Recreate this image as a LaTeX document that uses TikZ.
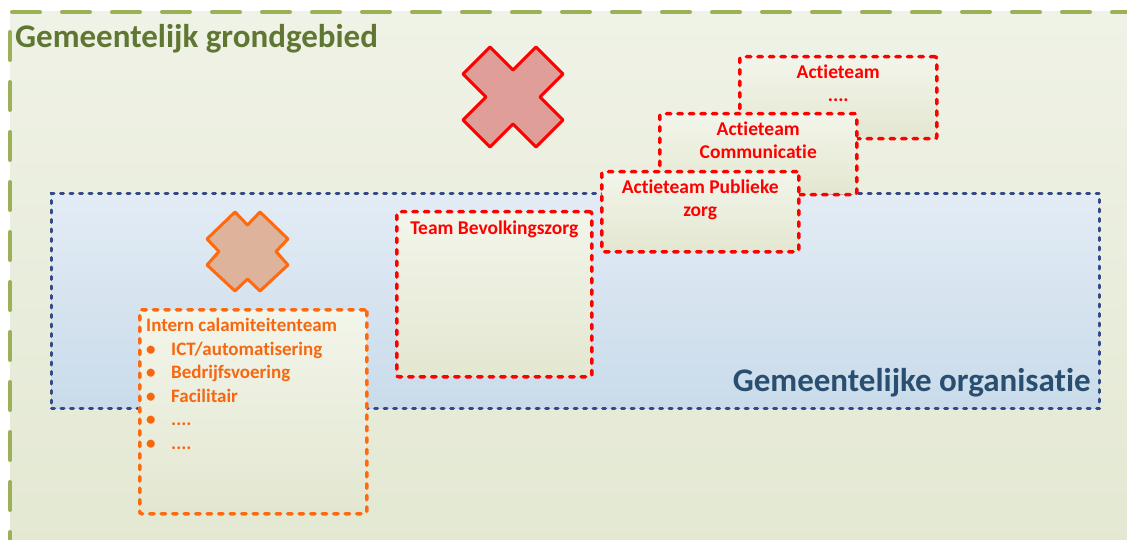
\documentclass[tikz,border=0pt]{standalone}
\usepackage{fontspec}
\setmainfont{Carlito}[Ligatures=NoCommon]
\definecolor{gbfillA}{HTML}{EFF2E6}
\definecolor{gbfillB}{HTML}{E3E8D2}
\definecolor{gbline}{HTML}{9CB058}
\definecolor{gbtext}{HTML}{5F7732}
\definecolor{orgA}{HTML}{E3ECF5}
\definecolor{orgB}{HTML}{C9DBEA}
\definecolor{orgline}{HTML}{34498A}
\definecolor{orgtext}{HTML}{2A4E70}
\definecolor{boxA}{HTML}{F2F5EA}
\definecolor{boxB}{HTML}{E3E7D0}
\definecolor{redline}{HTML}{FF0000}
\definecolor{orline}{HTML}{FF6A0E}
\definecolor{ortext}{HTML}{F7670F}
\definecolor{xredfill}{HTML}{E09E98}
\definecolor{xorfill}{HTML}{DDB39B}
\begin{document}
\begin{tikzpicture}[x=1pt,y=-1pt,
  teambox/.style={draw=redline, line width=3.5pt, line cap=round, dash pattern=on 4.5pt off 7pt,
    rounded corners=2pt, top color=boxA, bottom color=boxB, anchor=north west, inner sep=0pt},
  orbox/.style={teambox, draw=orline},
  teamtext/.style={text=redline, font=\bfseries\fontsize{19.5}{22.5}\selectfont, align=center, anchor=north, inner sep=0pt},
  ortxt/.style={text=ortext, font=\bfseries\fontsize{19}{23.6}\selectfont, align=left, anchor=north west, inner sep=0pt},
  crossshape/.style={line width=3pt, line join=round}
]
\useasboundingbox (0,0) rectangle (1127,540);
\clip (0,0) rectangle (1127,540);
% outer territory
\path[top color=gbfillA, bottom color=gbfillB] (10,12) rectangle (1140,560);
\draw[gbline, line width=4pt, line cap=round, dash pattern=on 28pt off 22pt] (10,560) -- (10,12) -- (1140,12);
\node[text=gbtext, font=\bfseries\fontsize{33}{37}\selectfont, anchor=west, inner sep=0pt] (title) at (15,39) {Gemeentelijk grondgebied};
% organisation
\node[draw=orgline, line width=3pt, line cap=round, dash pattern=on 3pt off 6.5pt, top color=orgA, bottom color=orgB,
  anchor=north west, inner sep=0pt, minimum width=1048pt, minimum height=215pt] (org) at (50,192) {};
\node[text=orgtext, font=\bfseries\fontsize{33}{37}\selectfont, anchor=base east, inner sep=0pt] (orgtitle) at (1091,391) {Gemeentelijke organisatie};
% action teams
\node[teambox, minimum width=197pt, minimum height=82pt] (at3) at (738,55) {};
\node[teamtext] (at3t) at ([yshift=-10pt]at3.north) {Actieteam\\....};
\node[teambox, minimum width=197pt, minimum height=81pt] (at2) at (658,112) {};
\node[teamtext] (at2t) at ([yshift=-10pt]at2.north) {Actieteam\\Communicatie};
\node[teambox, minimum width=197pt, minimum height=80pt] (at1) at (600,170) {};
\node[teamtext] (at1t) at ([yshift=-10pt]at1.north) {Actieteam Publieke\\zorg};
\node[teambox, minimum width=195pt, minimum height=165pt] (tb) at (395,210) {};
\node[teamtext] (tbt) at ([yshift=-11pt]tb.north) {Team Bevolkingszorg};
% internal team
\node[orbox, minimum width=227pt, minimum height=204pt] (ict) at (138,308) {};
\node[ortxt] (ictt) at (146,318) {Intern calamiteitenteam\\
  \makebox[25pt][l]{\textbullet}ICT/automatisering\\
  \makebox[25pt][l]{\textbullet}Bedrijfsvoering\\
  \makebox[25pt][l]{\textbullet}Facilitair\\
  \makebox[25pt][l]{\textbullet}....\\
  \makebox[25pt][l]{\textbullet}....};
% crosses
\draw[crossshape, draw=redline, fill=xredfill] (490,47) -- (513,70) -- (536,47) -- (563,74) -- (540,97) -- (563,120) -- (536,147) -- (513,124) -- (490,147) -- (463,120) -- (486,97) -- (463,74) -- cycle;
\draw[crossshape, draw=orline, fill=xorfill] (235,212) -- (247.5,225) -- (260,212) -- (288,239) -- (276,251.5) -- (288,265) -- (260,291) -- (247.5,279) -- (235,291) -- (207,265) -- (219,251.5) -- (207,239) -- cycle;
\end{tikzpicture}
\end{document}
